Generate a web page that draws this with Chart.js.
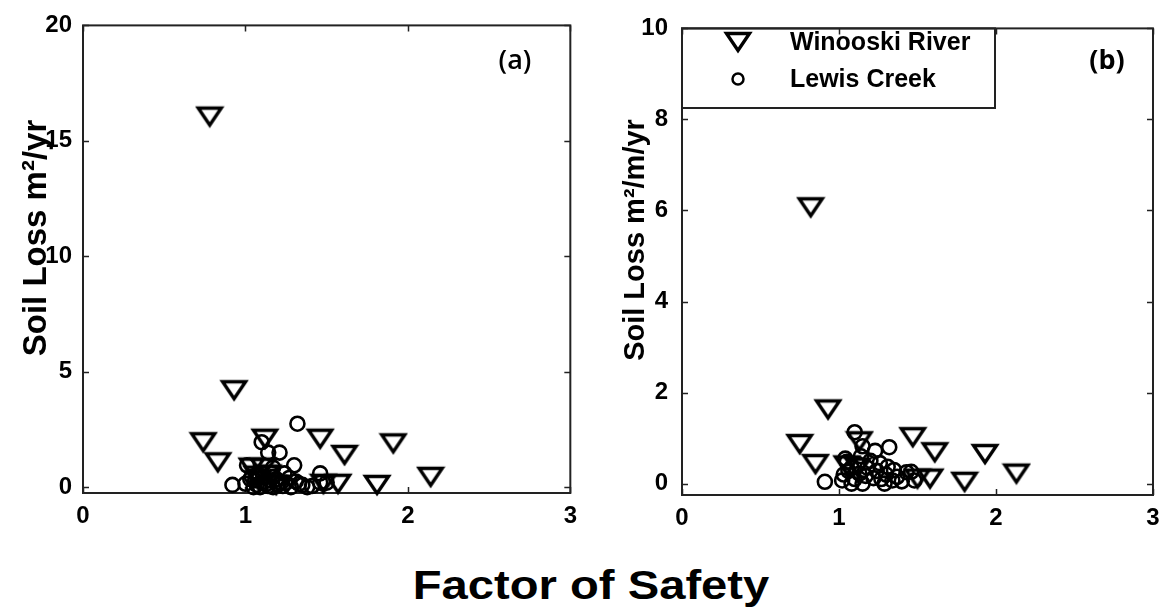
<!DOCTYPE html>
<html lang="en">
<head>
    <meta charset="UTF-8">
    <title>Soil Loss vs Factor of Safety</title>
    <script src="https://cdn.jsdelivr.net/npm/chart.js"></script>
    <style>
        body { margin: 0; background: #fff; }
        #wrap { position: relative; width: 1173px; height: 616px; overflow: hidden; }
        #chartA { position: absolute; left: 0; top: 0; }
        #chartB { position: absolute; left: 586px; top: 0; }
        #xTitle {
            position: absolute; left: 0; width: 1182px; top: 563px;
            text-align: center; font: bold 40px "Liberation Sans", Arial, sans-serif;
            transform: scaleX(1.18); color: #000;
        }
    </style>
</head>
<body>
<div id="wrap">
    <canvas id="chartA" width="586" height="540"></canvas>
    <canvas id="chartB" width="587" height="540"></canvas>
    <div id="xTitle">Factor of Safety</div>
</div>
<script>
    // panel (a): soil loss per year
    var winX_a = [0.78, 0.93, 0.74, 0.83, 1.12, 1.46, 1.61, 1.91, 2.14, 1.81, 1.57, 1.48, 1.04, 1.11, 1.08, 1.19, 1.07, 1.14];
    var winY_a = [16.05, 4.2, 1.95, 1.08, 2.1, 2.1, 1.4, 1.9, 0.45, 0.1, 0.15, 0.15, 0.85, 0.85, 0.3, 0.1, 0.5, 0.55];
    var lewX_a = [1.32, 0.92, 1.21, 1.30, 1.46, 1.10, 1.14, 1.01, 1.17, 1.24, 1.50, 1.46, 1.00, 1.07,
                  1.13, 1.20, 1.25, 1.33, 1.38, 1.04, 1.11, 1.17, 1.22, 1.28, 1.09, 1.17, 1.06, 1.15,
                  1.03, 1.08, 1.12, 1.16, 1.19, 1.23, 1.27, 1.31, 1.35, 1.41, 1.05, 1.14];
    var lewY_a = [2.75, 0.1, 1.5, 0.95, 0.6, 1.95, 1.5, 0.95, 0.85, 0.6, 0.2, 0.2, 0.15, 0.1,
                  0.15, 0.1, 0.2, 0.15, 0.0, 0.45, 0.45, 0.45, 0.2, 0.0, 0.0, 0.0, 0.3, 0.3,
                  0.35, 0.55, 0.25, 0.6, 0.35, 0.05, 0.4, 0.25, 0.1, 0.05, 0.0, 0.05];

    // panel (b): soil loss per metre per year
    var winX_b = [0.82, 0.93, 0.75, 0.85, 1.47, 1.61, 1.93, 2.13, 1.80, 1.58, 1.50, 1.13, 1.05, 1.12];
    var winY_b = [6.07, 1.63, 0.87, 0.43, 1.02, 0.69, 0.65, 0.22, 0.04, 0.11, 0.11, 0.93, 0.4, 0.35];
    var lewX_b = [1.10, 1.23, 1.32, 0.91, 1.46, 1.31, 1.05, 1.15, 1.48, 1.02, 1.10, 1.17, 1.24, 1.27,
                  1.37, 1.06, 1.12, 1.20, 1.34, 1.08, 1.15, 1.29,
                  1.03, 1.08, 1.13, 1.18, 1.22, 1.26, 1.30, 1.35, 1.40, 1.43, 1.04, 1.14];
    var lewY_b = [1.13, 0.72, 0.8, 0.04, 0.26, 0.37, 0.48, 0.82, 0.07, 0.07, 0.1, 0.17, 0.28, 0.1,
                  0.15, 0.28, 0.43, 0.5, 0.07, 0.0, 0.0, 0.0,
                  0.2, 0.35, 0.22, 0.35, 0.12, 0.45, 0.2, 0.3, 0.05, 0.25, 0.55, 0.6];

    var xTicks = [0, 1, 2, 3];
    var yTicks_a = [0, 5, 10, 15, 20];
    var yTicks_b = [0, 2, 4, 6, 8, 10];
    var seriesNames = ['Winooski River', 'Lewis Creek'];

    var FONT = '"Liberation Sans", Arial, sans-serif';

    function pts(xs, ys) {
        return xs.map((v, i) => ({ x: v, y: ys[i] }));
    }

    // flattened downward triangle used as the Winooski marker
    function makeTriangle() {
        var c = document.createElement('canvas');
        c.width = 30; c.height = 24;
        var g = c.getContext('2d');
        g.strokeStyle = '#000';
        g.lineWidth = 3.4;
        g.lineJoin = 'miter';
        g.beginPath();
        g.moveTo(3.5, 3.5);
        g.lineTo(26.5, 3.5);
        g.lineTo(15, 20.5);
        g.closePath();
        g.stroke();
        return c;
    }
    var triImg = makeTriangle();

    // box, inward ticks, rotated y title, panel tag and optional legend
    var frame = {
        id: 'frame',
        beforeDatasetsDraw(chart, args, o) {
            var ctx = chart.ctx, a = chart.chartArea;
            var x = chart.scales.x, y = chart.scales.y;
            ctx.save();
            ctx.strokeStyle = '#222';
            ctx.lineWidth = 2;
            ctx.strokeRect(a.left, a.top, a.right - a.left, a.bottom - a.top);
            ctx.lineWidth = 1.5;
            ctx.beginPath();
            x.ticks.forEach(t => {
                var px = Math.round(x.getPixelForValue(t.value)) + 0.5;
                ctx.moveTo(px, a.bottom); ctx.lineTo(px, a.bottom - 6);
                ctx.moveTo(px, a.top); ctx.lineTo(px, a.top + 6);
            });
            y.ticks.forEach(t => {
                var py = Math.round(y.getPixelForValue(t.value)) + 0.5;
                ctx.moveTo(a.left, py); ctx.lineTo(a.left + 6, py);
                ctx.moveTo(a.right, py); ctx.lineTo(a.right - 6, py);
            });
            ctx.stroke();
            ctx.restore();
        },
        afterDraw(chart, args, o) {
            var ctx = chart.ctx, a = chart.chartArea;
            ctx.save();
            ctx.fillStyle = '#000';

            ctx.translate(o.titleX, o.titleY);
            ctx.rotate(-Math.PI / 2);
            ctx.font = 'bold ' + o.titleSize + 'px ' + FONT;
            ctx.textAlign = 'center';
            ctx.textBaseline = 'middle';
            ctx.fillText(o.title, 0, 0);
            ctx.setTransform(1, 0, 0, 1, 0, 0);

            ctx.font = o.tagWeight + ' 27px "Open Sans", "Noto Sans", sans-serif';
            ctx.textAlign = 'center';
            ctx.textBaseline = 'middle';
            ctx.fillText(o.tag, o.tagX, 61);

            if (o.legend) {
                var right = o.legend.right, bottom = o.legend.bottom;
                ctx.strokeStyle = '#222';
                ctx.lineWidth = 2;
                ctx.strokeRect(a.left, a.top, right - a.left, bottom - a.top);
                ctx.drawImage(triImg, 152 - 15, 42 - 12);
                ctx.lineWidth = 2.5;
                ctx.strokeStyle = '#000';
                ctx.beginPath();
                ctx.arc(152, 79, 5.5, 0, Math.PI * 2);
                ctx.stroke();
                ctx.font = 'bold 25px ' + FONT;
                ctx.textAlign = 'left';
                ctx.fillText(seriesNames[0], 204, 43);
                ctx.fillText(seriesNames[1], 204, 80);
            }
            ctx.restore();
        }
    };

    function makePanel(id, win, lew, yMax, yTicks, leftW, rightPad, bottomH, yPad, deco) {
        var tickFont = { family: FONT, size: 24, weight: 'bold' };
        return new Chart(document.getElementById(id), {
            type: 'scatter',
            data: {
                datasets: [
                    {
                        label: seriesNames[0],
                        data: win,
                        pointStyle: triImg,
                        pointRadius: 12,
                        clip: false
                    },
                    {
                        label: seriesNames[1],
                        data: lew,
                        pointStyle: 'circle',
                        pointRadius: 7,
                        borderWidth: 2.6,
                        borderColor: '#000',
                        backgroundColor: 'rgba(0,0,0,0)',
                        clip: false
                    }
                ]
            },
            options: {
                responsive: false,
                devicePixelRatio: 1,
                animation: false,
                events: [],
                layout: { padding: { top: 24, right: rightPad, left: 0, bottom: 0 } },
                scales: {
                    x: {
                        type: 'linear',
                        min: 0, max: 3,
                        grid: { display: false, drawTicks: false },
                        border: { display: false },
                        ticks: { font: tickFont, color: '#000', padding: 9 },
                        afterBuildTicks: s => { s.ticks = xTicks.map(v => ({ value: v })); },
                        afterFit: s => { s.height = bottomH; }
                    },
                    y: {
                        type: 'linear',
                        min: -0.25, max: yMax,
                        grid: { display: false, drawTicks: false },
                        border: { display: false },
                        ticks: { font: tickFont, color: '#000', padding: yPad },
                        afterBuildTicks: s => { s.ticks = yTicks.map(v => ({ value: v })); },
                        afterFit: s => { s.width = leftW; }
                    }
                },
                plugins: {
                    legend: { display: false },
                    tooltip: { enabled: false },
                    frame: deco
                }
            },
            plugins: [frame]
        });
    }

    makePanel('chartA', pts(winX_a, winY_a), pts(lewX_a, lewY_a), 20, yTicks_a, 83, 15, 47, 11, {
        title: 'Soil Loss m\u00B2/yr', titleX: 37, titleY: 238, titleSize: 33,
        tag: '(a)', tagX: 515, tagWeight: '600'
    });

    makePanel('chartB', pts(winX_b, winY_b), pts(lewX_b, lewY_b), 10, yTicks_b, 96, 20, 45, 14, {
        title: 'Soil Loss m\u00B2/m/yr', titleX: 50, titleY: 240, titleSize: 29,
        tag: '(b)', tagX: 521, tagWeight: 'bold',
        legend: { right: 409, bottom: 108 }
    });
</script>
</body>
</html>
